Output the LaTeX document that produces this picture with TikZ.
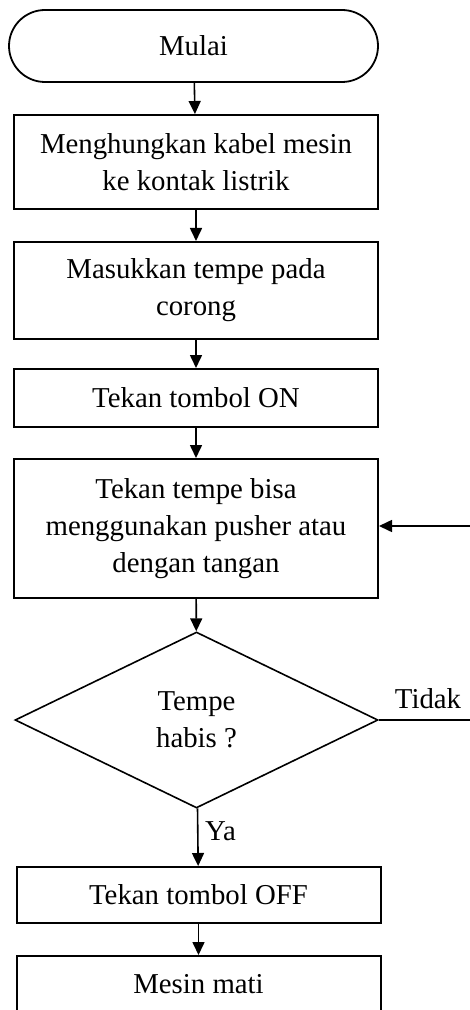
\documentclass[tikz,border=0pt]{standalone}
\usepackage{fontspec}
\setmainfont{Liberation Serif}
\usetikzlibrary{positioning, shapes.geometric, arrows.meta}

\tikzset{
  every node/.style={font=\fontsize{14.4}{18.5}\selectfont},
  flowbox/.style={draw, line width=1pt, rectangle, minimum width=182pt, align=center, inner sep=2pt},
  startstop/.style={draw, line width=0.9pt, rectangle, rounded corners=18pt, minimum width=184.5pt, minimum height=36pt},
  decide/.style={draw, line width=0.8pt, diamond, minimum width=181.5pt, minimum height=88pt, align=center, inner sep=0pt},
  flowarrow/.style={line width=0.8pt, -{Triangle[width=6pt,length=6.5pt]}},
  flowline/.style={line width=0.8pt}
}

\begin{document}
\begin{tikzpicture}[x=0.5pt,y=-0.5pt]
\useasboundingbox (0,0) rectangle (470,1010);
\clip (0,0) rectangle (470,1010);

\node[startstop] (mulai) at (193.5,46) {Mulai};
\node[flowbox, minimum height=47pt] (kabel) at (196,162) {Menghungkan kabel mesin\\ke kontak listrik};
\node[flowbox, minimum height=48.5pt] (corong) at (196,290.5) {Masukkan tempe pada\\corong};
\node[flowbox, minimum height=29pt] (tombolon) at (196,398) {Tekan tombol ON};
\node[flowbox, minimum height=69.5pt] (tekan) at (196,528.5) {Tekan tempe bisa\\menggunakan pusher atau\\dengan tangan};
\node[decide] (habis) at (196.5,720) {Tempe\\habis ?};
\node[flowbox, minimum height=28pt] (tomboloff) at (198.5,895) {Tekan tombol OFF};
\node[flowbox, minimum height=28pt] (mati) at (198.5,984) {Mesin mati};

\coordinate (kanan1) at (476,720);
\coordinate (kanan2) at (476,526);

% alur utama
\draw[flowarrow] (mulai) -- (kabel);
\draw[flowarrow] (kabel) -- (corong);
\draw[flowarrow] (corong) -- (tombolon);
\draw[flowarrow] (tombolon) -- (tekan);
\draw[flowarrow] (tekan) -- (habis);
\draw[flowarrow] (habis) -- node[right, pos=0.4] {Ya} (tomboloff);
\draw[flowarrow] (tomboloff) -- (mati);

% kembali jika belum habis
\draw[flowline] (habis.east) -- (kanan1);
\draw[flowarrow] (kanan1) -- (kanan2) -- (tekan.east |- kanan2);
\node[above] (tidak) at (428,716) {Tidak};
\end{tikzpicture}
\end{document}
